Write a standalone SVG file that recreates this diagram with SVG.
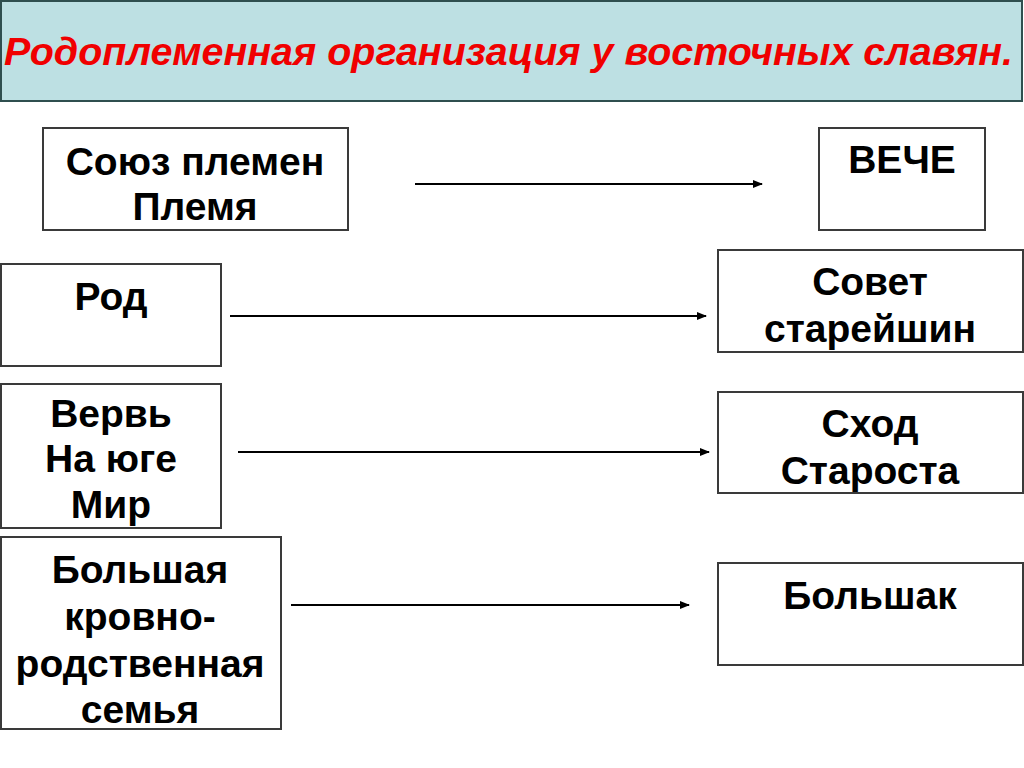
<svg xmlns="http://www.w3.org/2000/svg" width="1024" height="768" viewBox="0 0 1024 768">
<style>
.box{fill:#fff;stroke:#3a3a3a;stroke-width:2}
.t{font-family:"Liberation Sans",Arial,sans-serif;font-weight:bold;font-size:39px;fill:#000;text-anchor:middle}
.c{stroke:#000;stroke-width:2;fill:none;marker-end:url(#ah)}
</style>
<defs>
<marker id="ah" markerWidth="10" markerHeight="8" refX="9" refY="4" orient="auto" markerUnits="userSpaceOnUse">
<path d="M0,0 L10,4 L0,8 Z" fill="#000"/>
</marker>
</defs>
<rect width="1024" height="768" fill="#fff"/>
<g id="title">
<rect x="1" y="1" width="1021" height="100" fill="#bde0e3" stroke="#2f4f4f" stroke-width="2"/>
<text x="4" y="65" font-family="'Liberation Sans',Arial,sans-serif" font-weight="bold" font-style="italic" font-size="38" fill="#f00000" textLength="1009" lengthAdjust="spacingAndGlyphs">Родоплеменная организация у восточных славян.</text>
</g>
<g id="soyuz">
<rect class="box" x="43" y="128" width="305" height="102"/>
<text class="t" x="195" y="175">Союз племен</text>
<text class="t" x="195" y="220">Племя</text>
</g>
<g id="veche">
<rect class="box" x="819" y="128" width="166" height="102"/>
<text class="t" x="902" y="173">ВЕЧЕ</text>
</g>
<g id="rod">
<rect class="box" x="1" y="264" width="220" height="102"/>
<text class="t" x="111" y="310">Род</text>
</g>
<g id="sovet">
<rect class="box" x="718" y="250" width="305" height="102"/>
<text class="t" x="870" y="295">Совет</text>
<text class="t" x="870" y="342">старейшин</text>
</g>
<g id="verv">
<rect class="box" x="1" y="384" width="220" height="144"/>
<text class="t" x="111" y="427">Вервь</text>
<text class="t" x="111" y="472">На юге</text>
<text class="t" x="111" y="518">Мир</text>
</g>
<g id="skhod">
<rect class="box" x="718" y="392" width="305" height="101"/>
<text class="t" x="870" y="437">Сход</text>
<text class="t" x="870" y="484">Староста</text>
</g>
<g id="semya">
<rect class="box" x="1" y="537" width="280" height="192"/>
<text class="t" x="140" y="583">Большая</text>
<text class="t" x="140" y="630">кровно-</text>
<text class="t" x="140" y="677">родственная</text>
<text class="t" x="140" y="723">семья</text>
</g>
<g id="bolshak">
<rect class="box" x="718" y="563" width="305" height="102"/>
<text class="t" x="870" y="609">Большак</text>
</g>
<g id="connectors">
<line class="c" x1="415" y1="184" x2="762" y2="184"/>
<line class="c" x1="230" y1="316" x2="706" y2="316"/>
<line class="c" x1="238" y1="452" x2="709" y2="452"/>
<line class="c" x1="291" y1="605" x2="689" y2="605"/>
</g>
</svg>
